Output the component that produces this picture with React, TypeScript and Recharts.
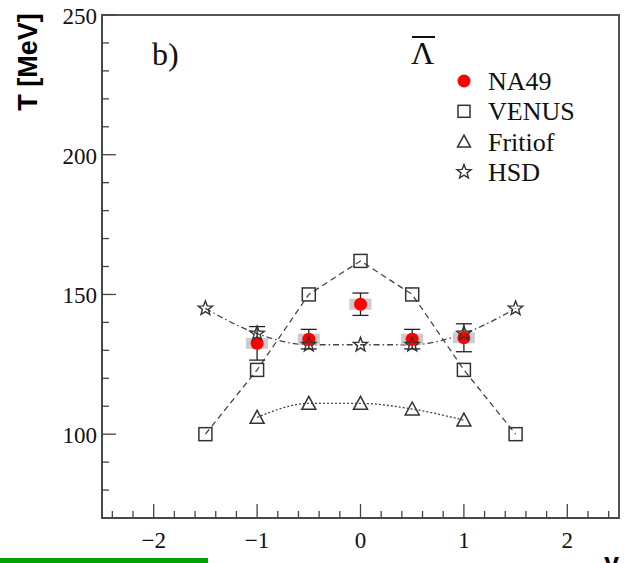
import React from 'react';
import {
  ComposedChart,
  Line,
  Scatter,
  XAxis,
  YAxis,
  ErrorBar,
  ReferenceArea,
  Legend,
} from 'recharts';

// ---- data ----
const venusX = [-1.5, -1, -0.5, 0, 0.5, 1, 1.5];
const venusT = [100, 123, 150, 162, 150, 123, 100];
const hsdX = [-1.5, -1, -0.5, 0, 0.5, 1, 1.5];
const hsdT = [145, 136, 132, 132, 132, 136, 145];
const fritiofX = [-1, -0.5, 0, 0.5, 1];
const fritiofT = [106, 111, 111, 109, 105];
const na49X = [-1, -0.5, 0, 0.5, 1];
const na49T = [132.5, 134, 146.5, 134, 134.5];
const na49Err = [6, 3.5, 4, 3.5, 5];

const xTicks = [
  -2.4, -2.2, -2, -1.8, -1.6, -1.4, -1.2, -1, -0.8, -0.6, -0.4, -0.2, 0,
  0.2, 0.4, 0.6, 0.8, 1, 1.2, 1.4, 1.6, 1.8, 2, 2.2, 2.4,
];
const xLabels = [-2, -1, 0, 1, 2];
const yTicks = [80, 90, 100, 110, 120, 130, 140, 150, 160, 170, 180, 190, 200, 210, 220, 230, 240, 250];
const yLabels = [100, 150, 200, 250];
const legendLabels = ['NA49', 'VENUS', 'Fritiof', 'HSD'];

const venus = venusX.map((x, i) => ({ x, y: venusT[i] }));
const hsd = hsdX.map((x, i) => ({ x, y: hsdT[i] }));
const fritiof = fritiofX.map((x, i) => ({ x, y: fritiofT[i] }));
const na49 = na49X.map((x, i) => ({ x, y: na49T[i], err: na49Err[i] }));

const SERIF = '"Liberation Serif", "Times New Roman", "DejaVu Serif", serif';
const SANS = '"Liberation Sans", Arial, sans-serif';
const MK = '#333';

const fmt = (v: number) => (v < 0 ? '\u2212' + Math.abs(v) : String(v));
const isLabel = (v: number, list: number[]) => list.some((l) => Math.abs(l - v) < 1e-6);

const XTick = (p: any) => {
  const v = p.payload.value;
  const major = isLabel(v, xLabels);
  return (
    <g>
      <line x1={p.x} x2={p.x} y1={p.y} y2={p.y - (major ? 14 : 7)} stroke="#444" strokeWidth={1.3} />
      {major && (
        <text x={p.x} y={p.y + 30} textAnchor="middle" fontFamily={SERIF} fontSize={23} fill="#111">
          {fmt(v)}
        </text>
      )}
    </g>
  );
};

const YTick = (p: any) => {
  const v = p.payload.value;
  const major = v % 50 === 0;
  return (
    <g>
      <line x1={p.x} x2={p.x + (major ? 14 : 7)} y1={p.y} y2={p.y} stroke="#444" strokeWidth={1.3} />
      {isLabel(v, yLabels) && (
        <text x={p.x - 5} y={p.y + 9} textAnchor="end" fontFamily={SERIF} fontSize={23} fill="#111">
          {fmt(v)}
        </text>
      )}
    </g>
  );
};

const Square = ({ cx, cy, s = 13 }: any) => (
  <rect x={cx - s / 2} y={cy - s / 2} width={s} height={s} fill="none" stroke={MK} strokeWidth={1.5} />
);
const Triangle = ({ cx, cy, s = 14 }: any) => (
  <polygon
    points={`${cx},${cy - s / 2} ${cx - s / 2},${cy + s * 0.42} ${cx + s / 2},${cy + s * 0.42}`}
    fill="none"
    stroke={MK}
    strokeWidth={1.5}
  />
);
const Star = ({ cx, cy, R = 7.5 }: any) => {
  const r = R * 0.42;
  const pts: string[] = [];
  for (let k = 0; k < 10; k++) {
    const a = -Math.PI / 2 + (k * Math.PI) / 5;
    const rr = k % 2 === 0 ? R : r;
    pts.push(`${cx + rr * Math.cos(a)},${cy + rr * Math.sin(a)}`);
  }
  return <polygon points={pts.join(' ')} fill="none" stroke={MK} strokeWidth={1.4} />;
};

const LegendBox = () => (
  <svg width={170} height={130}>
    {legendLabels.map((lab, i) => {
      const cy = 17 + i * 30.3;
      return (
        <g key={lab}>
          {i === 0 && <circle cx={16} cy={cy} r={6.5} fill="#ff0000" />}
          {i === 1 && <Square cx={16} cy={cy} s={12} />}
          {i === 2 && <Triangle cx={16} cy={cy} s={13} />}
          {i === 3 && <Star cx={16} cy={cy} R={7.5} />}
          <text x={40} y={cy + 9} fontFamily={SERIF} fontSize={26} fill="#111">
            {lab}
          </text>
        </g>
      );
    })}
  </svg>
);

export default function App() {
  return (
    <div style={{ position: 'absolute', left: 0, top: 0, width: 625, height: 563, background: '#fff', overflow: 'hidden' }}>
      <ComposedChart width={625} height={563} margin={{ top: 15, right: 6, bottom: 0, left: 0 }}>
        <XAxis
          dataKey="x"
          type="number"
          domain={[-2.5, 2.5]}
          allowDataOverflow
          ticks={xTicks}
          interval={0}
          tick={<XTick />}
          tickLine={false}
          tickSize={0}
          tickMargin={0}
          height={45}
          axisLine={{ stroke: '#444', strokeWidth: 1.5 }}
        />
        <YAxis
          dataKey="y"
          type="number"
          domain={[70, 250]}
          allowDataOverflow
          ticks={yTicks}
          interval={0}
          tick={<YTick />}
          tickLine={false}
          tickSize={0}
          tickMargin={0}
          width={102}
          axisLine={{ stroke: '#444', strokeWidth: 1.5 }}
        />
        <ReferenceArea x1={-2.5} x2={2.5} y1={70} y2={250} fill="none" stroke="#555" strokeWidth={2} ifOverflow="visible" />
        <Line
          data={venus}
          dataKey="y"
          type="linear"
          stroke="#444"
          strokeWidth={1.3}
          strokeDasharray="6 4"
          isAnimationActive={false}
          activeDot={false}
          dot={(p: any) => <Square key={'v' + p.index} cx={p.cx} cy={p.cy} />}
        />
        <Line
          data={fritiof}
          dataKey="y"
          type="monotone"
          stroke="#444"
          strokeWidth={1.3}
          strokeDasharray="2 2"
          isAnimationActive={false}
          activeDot={false}
          dot={(p: any) => <Triangle key={'f' + p.index} cx={p.cx} cy={p.cy} />}
        />
        <Line
          data={hsd}
          dataKey="y"
          type="monotone"
          stroke="#444"
          strokeWidth={1.3}
          strokeDasharray="6 3 1.5 3"
          isAnimationActive={false}
          activeDot={false}
          dot={(p: any) => <Star key={'h' + p.index} cx={p.cx} cy={p.cy} />}
        />
        <Scatter
          data={na49}
          dataKey="y"
          isAnimationActive={false}
          shape={(p: any) => <rect x={p.cx - 11} y={p.cy - 5.5} width={22} height={11} fill="#cccccc" />}
        />
        <Scatter data={na49} dataKey="y" isAnimationActive={false} shape={() => <g />}>
          <ErrorBar dataKey="err" direction="y" width={8} stroke="#222" strokeWidth={1.3} isAnimationActive={false} />
        </Scatter>
        <Scatter
          data={na49}
          dataKey="y"
          isAnimationActive={false}
          shape={(p: any) => <circle cx={p.cx} cy={p.cy} r={6.5} fill="#ff0000" />}
        />
        <Legend
          layout="vertical"
          align="center"
          verticalAlign="middle"
          content={() => <LegendBox />}
          wrapperStyle={{ position: 'absolute', left: 448, top: 64, width: 170, height: 130 }}
        />
      </ComposedChart>
      <svg width={625} height={563} style={{ position: 'absolute', left: 0, top: 0, pointerEvents: 'none' }}>
        <text x={37} y={62} transform="rotate(-90, 37, 62)" textAnchor="middle" fontFamily={SANS} fontWeight="bold" fontSize={27} fill="#000">
          T [MeV]
        </text>
        <text x={152} y={65} fontFamily={SERIF} fontSize={32} fill="#111">
          b)
        </text>
        <line x1={412} x2={435} y1={37} y2={37} stroke="#111" strokeWidth={2} />
        <text x={411} y={64} fontFamily={SERIF} fontSize={32} fill="#111">
          Λ
        </text>
        <text x={604} y={572} fontFamily={SANS} fontWeight="bold" fontSize={27} fill="#000">
          y
        </text>
      </svg>
      <div style={{ position: 'absolute', left: 0, top: 558, width: 208, height: 5, background: '#00a000' }} />
    </div>
  );
}
